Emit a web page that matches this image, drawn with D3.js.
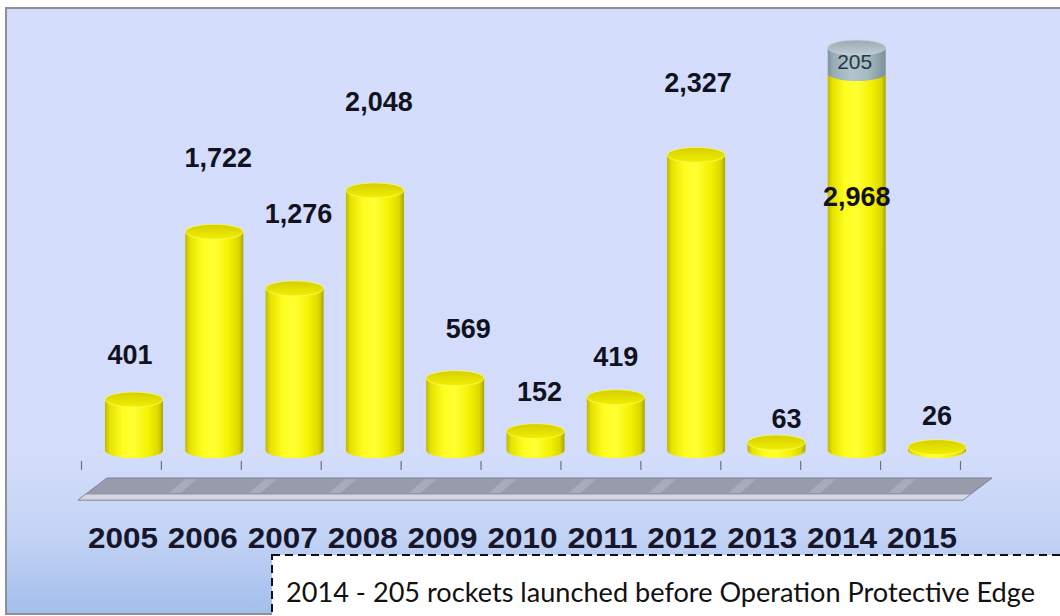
<!DOCTYPE html>
<html><head><meta charset="utf-8">
<script src="https://cdn.jsdelivr.net/npm/d3@7"></script>
<style>html,body{margin:0;padding:0;background:#fff;overflow:hidden}</style>
</head><body>
<svg id="c" width="1060" height="616"></svg>
<script>
// ---- data ----
const years = ["2005","2006","2007","2008","2009","2010","2011","2012","2013","2014","2015"];
const rockets = [401, 1722, 1276, 2048, 569, 152, 419, 2327, 63, 2968, 26];
const before = [0, 0, 0, 0, 0, 0, 0, 0, 0, 205, 0]; // 2014: launched before Operation Protective Edge
const valueLabels = ["401","1,722","1,276","2,048","569","152","419","2,327","63","2,968","26"];
const note = "2014 - 205 rockets launched before Operation Protective Edge";
// label layout (pixel offsets from bar top)
const labelLift = [36, 65, 65, 79, 40, 30, 31, 63, 14, -132, 22];
const labelDx = [-4, 4, 4, 4, 13, 4, 0, 2, 10, 0, 0];

const svg = d3.select("#c");
const defs = svg.append("defs");

// panel background gradient
const pg = defs.append("linearGradient").attr("id","panel").attr("x1",0).attr("y1",0).attr("x2",0).attr("y2",1);
pg.append("stop").attr("offset","0").attr("stop-color","#d4defc");
pg.append("stop").attr("offset","0.74").attr("stop-color","#d3ddfb");
pg.append("stop").attr("offset","0.87").attr("stop-color","#c3d3f5");
pg.append("stop").attr("offset","1").attr("stop-color","#a2bfeb");

// cylinder side gradient
function sideGrad(id, stops){
  const g = defs.append("linearGradient").attr("id",id).attr("x1",0).attr("x2",1).attr("y1",0).attr("y2",0);
  stops.forEach(s=>g.append("stop").attr("offset",s[0]).attr("stop-color",s[1]));
}
sideGrad("ySide",[[0,"#bdb800"],[0.08,"#e6e200"],[0.3,"#fefe20"],[0.5,"#ffff33"],[0.75,"#f4f200"],[0.92,"#dcd800"],[1,"#aaa500"]]);
sideGrad("gSide",[[0,"#7f959e"],[0.1,"#98adb6"],[0.4,"#b2c4cc"],[0.7,"#a5b9c1"],[1,"#7c9098"]]);
const yt = defs.append("linearGradient").attr("id","yTop").attr("x1",0).attr("x2",0).attr("y1",0).attr("y2",1);
yt.append("stop").attr("offset",0).attr("stop-color","#d4ce00");
yt.append("stop").attr("offset",1).attr("stop-color","#f2ef00");
const gt = defs.append("linearGradient").attr("id","gTop").attr("x1",0).attr("x2",0).attr("y1",0).attr("y2",1);
gt.append("stop").attr("offset",0).attr("stop-color","#9aaab2");
gt.append("stop").attr("offset",1).attr("stop-color","#c0ccd2");

// panel
svg.append("rect").attr("x",6).attr("y",8).attr("width",1060).attr("height",606)
  .attr("fill","url(#panel)").attr("stroke","#8e8f9a").attr("stroke-width",2);

// scales
const yScale = d3.scaleLinear().domain([0, 3500]).range([450.5, 450.5 - 3500*0.127]);
const xBar = d3.scalePoint().domain(years).range([134, 937]);
const xTick = d3.scaleLinear().domain([0, years.length]).range([81, 960]);
const xBand = d3.scaleBand().domain(years).range([81, 960]);
const r = 29, ry = 7.5;

// floor
const floor = svg.append("g");
floor.append("path").attr("d","M107,478 L992,478 L963,500 L78,500 Z").attr("fill","#979bac").attr("stroke","#7e8296").attr("stroke-width",1);
d3.range(1, years.length).forEach(i=>{
  const x = xTick(i);
  floor.append("path").attr("d",`M${x+24},479 L${x+36},479 L${x+20},493 L${x+8},493 Z`)
    .attr("fill","#b4b8c6").attr("opacity",0.55);
});
floor.append("path").attr("d","M86,494 L971,494 L963,500 L78,500 Z").attr("fill","#d3d7e3").attr("stroke","#8a8ea2").attr("stroke-width",0.8);

// axis ticks
const axis = d3.axisBottom(xTick).tickValues(d3.range(0, years.length+1)).tickFormat("").tickSize(9).tickSizeOuter(0);
const ag = svg.append("g").attr("transform","translate(0,461)").call(axis);
ag.select(".domain").remove();
ag.selectAll("line").attr("stroke","#6d6f7c").attr("stroke-width",1.2);

// cylinders
function cyl(g, cx, y0, y1, side, top, drawTop){
  const x0 = cx - r, x1 = cx + r;
  g.append("path").attr("d",`M${x0},${y1} L${x0},${y0} A${r},${ry} 0 0 0 ${x1},${y0} L${x1},${y1} Z`)
    .attr("fill",`url(#${side})`);
  if (drawTop) g.append("ellipse").attr("cx",cx).attr("cy",y1).attr("rx",r).attr("ry",ry)
    .attr("fill",`url(#${top})`).attr("stroke",side==="ySide"?"#fbfb60":"#c8d4da").attr("stroke-width",0.8);
}
const bars = svg.append("g");
years.forEach((yr,i)=>{
  const cx = xBar(yr);
  const g = bars.append("g");
  const yv = yScale(rockets[i]);
  cyl(g, cx, yScale(0), yv, "ySide", "yTop", before[i] === 0);
  if (before[i] > 0) {
    cyl(g, cx, yv, yScale(rockets[i] + before[i]), "gSide", "gTop", true);
    g.append("text").attr("x", cx - 2).attr("y", yScale(rockets[i]) - 5)
      .attr("text-anchor","middle").attr("font-family","Liberation Sans, Arial, sans-serif")
      .attr("font-size",21).attr("fill","#263840").text(before[i]);
  }
});

// value labels
svg.append("g").selectAll("text").data(years).join("text")
  .attr("x",(d,i)=>xBar(d)+labelDx[i])
  .attr("y",(d,i)=>yScale(rockets[i]) - labelLift[i])
  .attr("text-anchor","middle")
  .attr("font-family","Liberation Sans, Arial, sans-serif").attr("font-weight","bold")
  .attr("font-size",27).attr("fill","#12121f")
  .text((d,i)=>valueLabels[i]);

// year labels
svg.append("g").selectAll("text").data(years).join("text")
  .attr("x",d=>xBand(d)+xBand.bandwidth()/2+2)
  .attr("y",548)
  .attr("text-anchor","middle")
  .attr("font-family","Liberation Sans, Arial, sans-serif").attr("font-weight","bold")
  .attr("font-size",29.5).attr("fill","#16162c")
  .attr("textLength",70).attr("lengthAdjust","spacingAndGlyphs")
  .text(d=>d);

// annotation box
svg.append("rect").attr("x",272).attr("y",555).attr("width",800).attr("height",80)
  .attr("fill","#fff").attr("stroke","#111").attr("stroke-width",2).attr("stroke-dasharray","8,5");
svg.append("text").attr("x",286).attr("y",602)
  .attr("font-family","Lato, 'Open Sans', sans-serif").attr("font-size",26).attr("fill","#111")
  .attr("textLength",749).attr("lengthAdjust","spacingAndGlyphs")
  .text(note);
</script>
</body></html>
